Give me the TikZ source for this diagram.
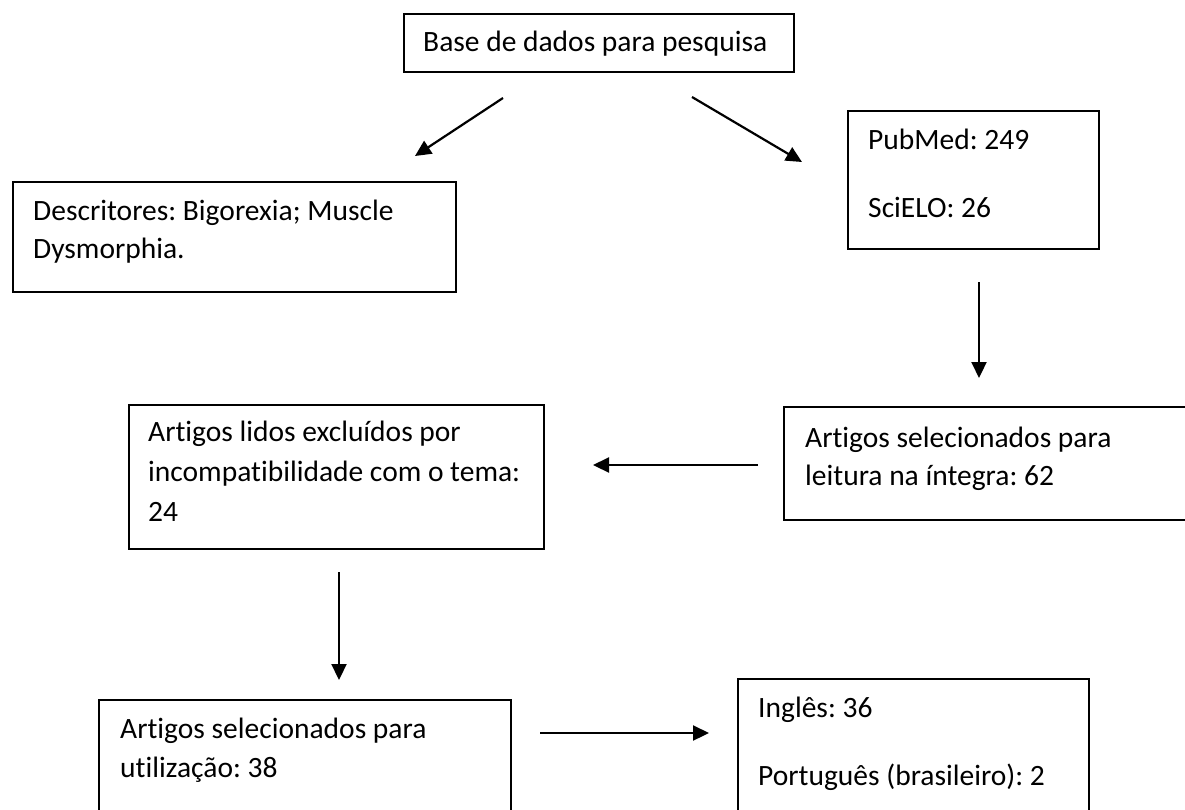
\documentclass[tikz,border=0pt]{standalone}
\usepackage{fontspec}
\setmainfont[Ligatures={NoCommon}]{Carlito}
\frenchspacing
\usetikzlibrary{arrows.meta}
\begin{document}
\begin{tikzpicture}[x=1pt,y=-1pt,
  box/.style={draw=black, line width=1.7pt, anchor=north west, inner sep=0pt},
  txt/.style={anchor=base west, inner sep=0pt, font=\fontsize{29.5}{38}\selectfont},
  arr/.style={line width=2.2pt, -{Triangle[length=16pt,width=15pt]}}]
\useasboundingbox (0,0) rectangle (1185,809);
\clip (0,0) rectangle (1185,809);
\fill[white] (0,0) rectangle (1185,809);

% boxes
\node[box, minimum width=390pt, minimum height=58pt] (base) at (403,13) {};
\node[box, minimum width=443pt, minimum height=110pt] (desc) at (12,181) {};
\node[box, minimum width=251pt, minimum height=138pt] (pub) at (847,110) {};
\node[box, minimum width=440pt, minimum height=113pt] (leit) at (783,406) {};
\node[box, minimum width=415pt, minimum height=144pt] (excl) at (128,404) {};
\node[box, minimum width=412pt, minimum height=140pt] (util) at (98,699) {};
\node[box, minimum width=351pt, minimum height=160pt] (ing) at (737,678) {};

% texts
\node[txt] (tbase) at (423,51) {Base de dados para pesquisa};
\node[txt] (tdesc1) at (33,220) {Descritores: Bigorexia; Muscle};
\node[txt] (tdesc2) at (33,258) {Dysmorphia.};
\node[txt] (tpub1) at (868,149) {PubMed: 249};
\node[txt] (tpub2) at (868,217) {SciELO: 26};
\node[txt] (tleit1) at (805,447) {Artigos selecionados para};
\node[txt] (tleit2) at (805,485) {leitura na íntegra: 62};
\node[txt] (texcl1) at (148,441) {Artigos lidos excluídos por};
\node[txt] (texcl2) at (148,481) {incompatibilidade com o tema:};
\node[txt] (texcl3) at (148,521) {24};
\node[txt] (tutil1) at (120,738) {Artigos selecionados para};
\node[txt] (tutil2) at (120,777) {utilização: 38};
\node[txt] (ting1) at (758,717) {Inglês: 36};
\node[txt] (ting2) at (758,785) {Português (brasileiro): 2};

% connector end points
\coordinate (a1s) at (503,98);  \coordinate (a1e) at (415,156);
\coordinate (a2s) at (692,97);  \coordinate (a2e) at (802,162);
\coordinate (a3s) at (979,282); \coordinate (a3e) at (979,378);
\coordinate (a4s) at (758,465); \coordinate (a4e) at (593,465);
\coordinate (a5s) at (339,572); \coordinate (a5e) at (339,680);
\coordinate (a6s) at (540,733); \coordinate (a6e) at (709,733);

\draw[arr] (a1s) -- (a1e);
\draw[arr] (a2s) -- (a2e);
\draw[arr] (a3s) -- (a3e);
\draw[arr] (a4s) -- (a4e);
\draw[arr] (a5s) -- (a5e);
\draw[arr] (a6s) -- (a6e);
\end{tikzpicture}
\end{document}
